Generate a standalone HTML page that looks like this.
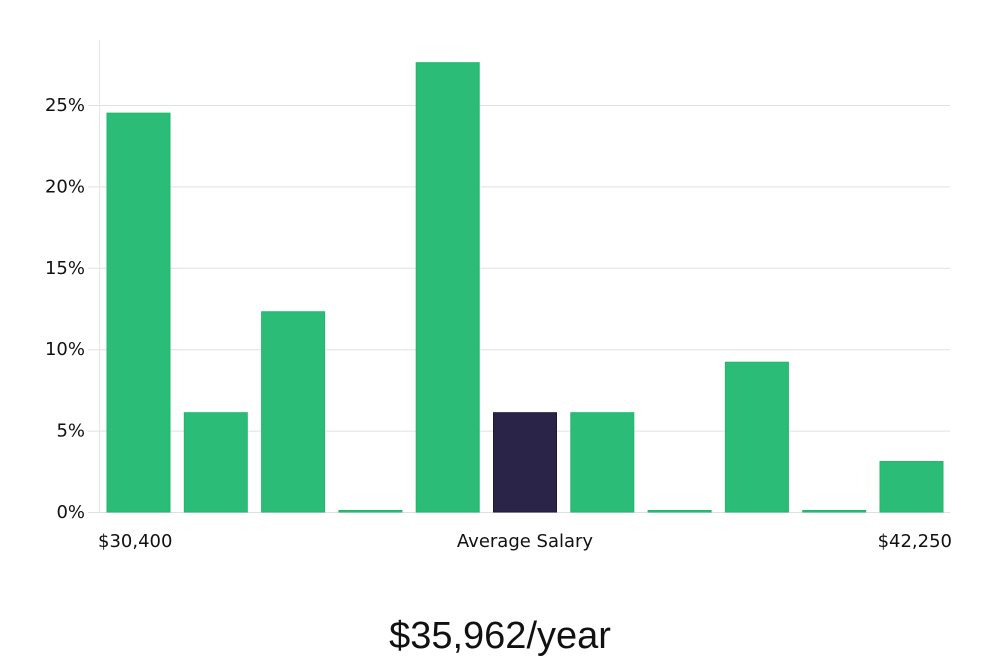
<!DOCTYPE html>
<html><head><meta charset="utf-8"><style>
body{margin:0;width:1000px;height:660px;background:#fff;overflow:hidden}
svg text{font-family:"DejaVu Sans","Liberation Sans",sans-serif}
</style></head><body>
<svg id="chart" width="1000" height="660" xmlns="http://www.w3.org/2000/svg">
<g id="grid"></g>
<line x1="99.5" y1="40" x2="99.5" y2="512" stroke="#e6e6e6"/>
<g id="ylabels"></g>
<g id="bars"></g>
<text x="98" y="547" font-size="18" fill="#111">$30,400</text>
<text x="525" y="547" font-size="18" fill="#111" text-anchor="middle">Average Salary</text>
<text x="952" y="547" font-size="18" fill="#111" text-anchor="end">$42,250</text>
<text x="500" y="648" font-size="38" fill="#111" text-anchor="middle" style="font-family:'Liberation Sans',sans-serif;font-weight:300">$35,962/year</text>
</svg>
<script>
const values=[24.5,6.1,12.3,0,27.6,6.1,6.1,0,9.2,0,3.1];
const highlight=[false,false,false,false,false,true,false,false,false,false,false];
const ticks=[0,5,10,15,20,25];
const tickLabels=["0%","5%","10%","15%","20%","25%"];
const NS="http://www.w3.org/2000/svg";
const y0=512,pxPer=16.28;
function y(v){return y0-v*pxPer;}
function x(i){return 107+i*77.3;}
const grid=document.getElementById('grid'),yl=document.getElementById('ylabels'),bars=document.getElementById('bars');
ticks.forEach((t,i)=>{
 const l=document.createElementNS(NS,'line');
 
 
 l.setAttribute('x1',88);l.setAttribute('x2',950);
 l.setAttribute('y1',y(t)+0.5);l.setAttribute('y2',y(t)+0.5);
 l.setAttribute('stroke','#e0e0e0');grid.appendChild(l);
 const tx=document.createElementNS(NS,'text');
 
 
 tx.setAttribute('x',85);tx.setAttribute('y',y(t)+6);
 tx.setAttribute('text-anchor','end');tx.setAttribute('font-size','18');tx.setAttribute('fill','#111');
 tx.textContent=tickLabels[i];yl.appendChild(tx);
});
values.forEach((v,i)=>{
 const r=document.createElementNS(NS,'rect');
 
 
 const h=Math.max(v*pxPer,1.5);
 r.setAttribute('x',x(i));r.setAttribute('width',63);
 r.setAttribute('y',y0-h);r.setAttribute('height',h);
 r.setAttribute('fill',highlight[i]?'#2a2548':'#2bbd77');
 r.setAttribute('stroke',highlight[i]?'#1c1838':'#22b56d');r.setAttribute('stroke-width','1');
 bars.appendChild(r);
});
</script>
</body></html>
